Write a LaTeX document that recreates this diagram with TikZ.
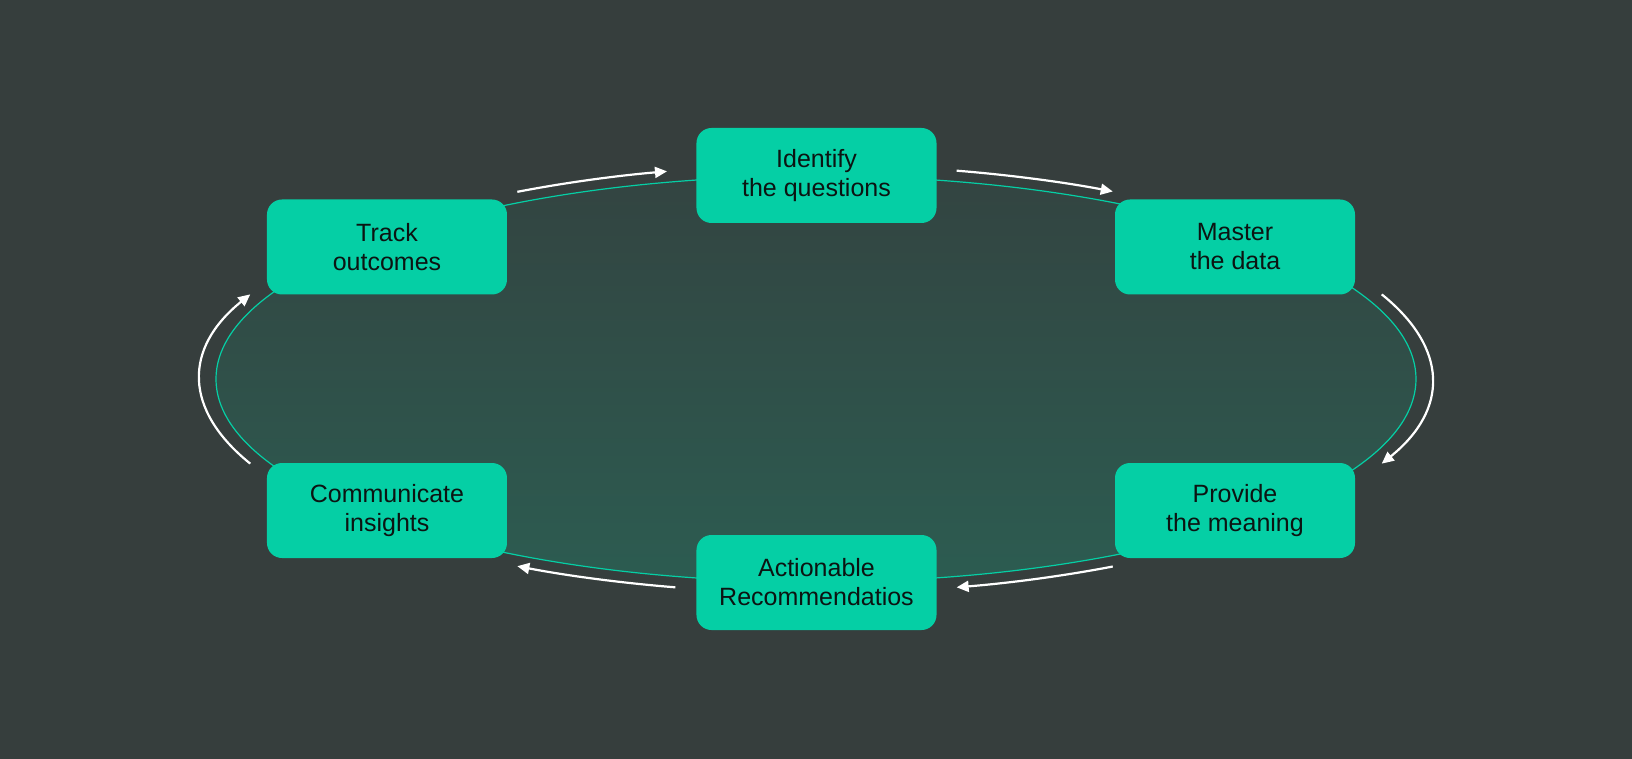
\documentclass[tikz,border=0pt]{standalone}
\usepackage{fontspec}
\setmainfont{Liberation Sans}
\usetikzlibrary{arrows.meta}
\definecolor{bgc}{RGB}{54,62,61}
\definecolor{boxc}{RGB}{5,207,165}
\definecolor{elltop}{RGB}{51,68,65}
\definecolor{ellbot}{RGB}{44,92,81}
\definecolor{txtc}{RGB}{12,20,18}
\begin{document}
\begin{tikzpicture}[x=1bp,y=1bp,
  stepbox/.style={fill=boxc, rounded corners=15bp, minimum width=240bp, minimum height=95bp,
    inner sep=0pt, align=center, text=txtc, font=\fontsize{25bp}{29bp}\selectfont},
  flow/.style={draw=white, line width=2.2bp, -{Triangle[length=12bp,width=11bp]}},
  ring/.style={draw=boxc, line width=1.2bp}]
\fill[bgc] (-816,-380) rectangle (816,379);
\useasboundingbox (-816,-380) rectangle (816,379);
% central ellipse
\shade[top color=elltop, bottom color=ellbot] (0,0) ellipse [x radius=600bp, y radius=203bp];
\draw[ring] (0,0) ellipse [x radius=600bp, y radius=203bp];
% steps
\node[stepbox] (identify) at (0.5,203.5) {Identify\\the questions};
\node[stepbox] (master) at (419,132) {Master\\the data};
\node[stepbox] (provide) at (419,-131.5) {Provide\\the meaning};
\node[stepbox] (action) at (0.5,-203.5) {Actionable\\Recommendatios};
\node[stepbox] (communicate) at (-429,-131.5) {Communicate\\insights};
\node[stepbox] (track) at (-429,132) {Track\\outcomes};
% arrow end points
\coordinate (a1s) at (119:616bp and 214bp);
\coordinate (a1e) at (104:616bp and 214bp);
\coordinate (a2s) at (76.8:616bp and 214bp);
\coordinate (a2e) at (61.2:616bp and 214bp);
\coordinate (a3s) at (23.3:616bp and 214bp);
\coordinate (a3e) at (-23.3:616bp and 214bp);
\coordinate (a4s) at (-61.2:616bp and 214bp);
\coordinate (a4e) at (-76.8:616bp and 214bp);
\coordinate (a5s) at (-103.2:616bp and 214bp);
\coordinate (a5e) at (-119:616bp and 214bp);
\coordinate (a6s) at (203.3:616bp and 214bp);
\coordinate (a6e) at (156.7:616bp and 214bp);
% arrows
\draw[flow] (a1s) arc[start angle=119, end angle=104, x radius=616bp, y radius=214bp];
\draw[flow] (a2s) arc[start angle=76.8, end angle=61.2, x radius=616bp, y radius=214bp];
\draw[flow] (a3s) arc[start angle=23.3, end angle=-23.3, x radius=616bp, y radius=214bp];
\draw[flow] (a4s) arc[start angle=-61.2, end angle=-76.8, x radius=616bp, y radius=214bp];
\draw[flow] (a5s) arc[start angle=-103.2, end angle=-119, x radius=616bp, y radius=214bp];
\draw[flow] (a6s) arc[start angle=203.3, end angle=156.7, x radius=616bp, y radius=214bp];
\end{tikzpicture}
\end{document}
